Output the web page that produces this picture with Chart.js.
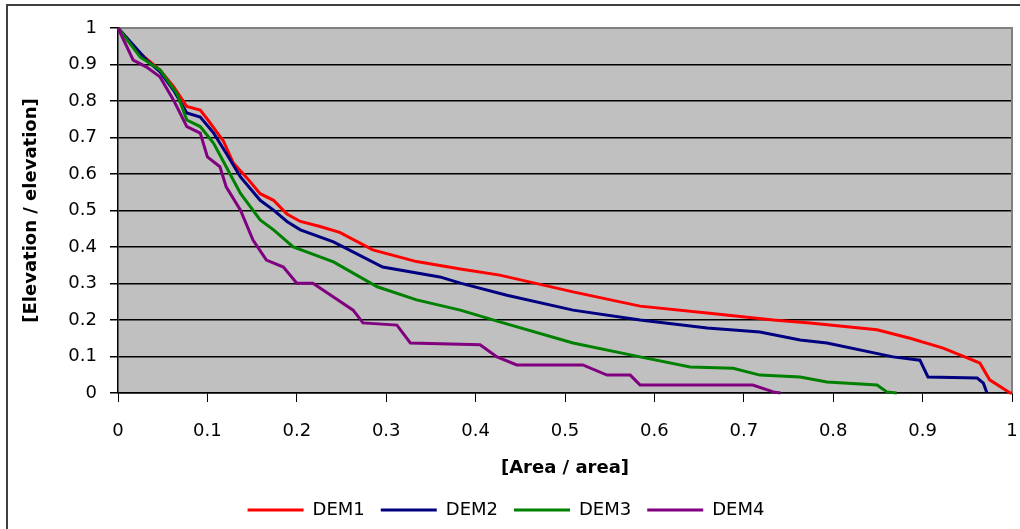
<!DOCTYPE html>
<html>
<head>
<meta charset="utf-8">
<script src="https://cdn.jsdelivr.net/npm/chart.js@4"></script>
<style>
  body { margin: 0; background: #fff; }
  #wrap { width: 1020px; height: 529px; }
</style>
</head>
<body>
<div id="wrap"><canvas id="chart" width="1020" height="529"></canvas></div>
<script>
// values
const seriesNames = ['DEM1', 'DEM2', 'DEM3', 'DEM4'];
const seriesColors = ['#ff0000', '#000080', '#008000', '#800080'];

const dem1X = [0, 0.025, 0.047, 0.062, 0.077, 0.092, 0.1, 0.118, 0.129, 0.144, 0.159, 0.174, 0.189, 0.204, 0.226, 0.248, 0.285, 0.334, 0.383, 0.427, 0.509, 0.584, 0.659, 0.733, 0.774, 0.849, 0.886, 0.923, 0.95, 0.964, 0.975, 0.998, 1];
const dem1Y = [1, 0.93, 0.885, 0.84, 0.785, 0.775, 0.75, 0.69, 0.63, 0.59, 0.546, 0.528, 0.49, 0.47, 0.456, 0.44, 0.392, 0.36, 0.34, 0.323, 0.277, 0.238, 0.219, 0.2, 0.192, 0.173, 0.15, 0.123, 0.096, 0.082, 0.036, 0, 0];

const dem2X = [0, 0.032, 0.047, 0.062, 0.077, 0.092, 0.107, 0.121, 0.137, 0.159, 0.174, 0.189, 0.204, 0.241, 0.296, 0.36, 0.383, 0.435, 0.509, 0.584, 0.659, 0.718, 0.763, 0.793, 0.867, 0.897, 0.906, 0.961, 0.968, 0.972];
const dem2Y = [1, 0.912, 0.88, 0.83, 0.767, 0.756, 0.712, 0.657, 0.592, 0.528, 0.501, 0.47, 0.447, 0.414, 0.345, 0.318, 0.301, 0.268, 0.227, 0.2, 0.178, 0.167, 0.145, 0.137, 0.099, 0.09, 0.044, 0.041, 0.027, 0];

const dem3X = [0, 0.025, 0.047, 0.066, 0.077, 0.092, 0.107, 0.121, 0.137, 0.159, 0.174, 0.196, 0.226, 0.241, 0.29, 0.334, 0.383, 0.427, 0.509, 0.584, 0.64, 0.688, 0.718, 0.763, 0.793, 0.849, 0.86, 0.871];
const dem3Y = [1, 0.92, 0.885, 0.82, 0.748, 0.73, 0.684, 0.62, 0.547, 0.474, 0.447, 0.4, 0.373, 0.359, 0.291, 0.255, 0.227, 0.195, 0.137, 0.099, 0.071, 0.068, 0.049, 0.044, 0.03, 0.022, 0.003, 0];

const dem4X = [0, 0.017, 0.032, 0.047, 0.062, 0.077, 0.092, 0.1, 0.114, 0.121, 0.137, 0.151, 0.166, 0.185, 0.2, 0.218, 0.241, 0.263, 0.274, 0.312, 0.327, 0.405, 0.424, 0.446, 0.52, 0.547, 0.573, 0.584, 0.71, 0.733, 0.741];
const dem4Y = [1, 0.912, 0.893, 0.866, 0.803, 0.73, 0.712, 0.647, 0.62, 0.565, 0.501, 0.419, 0.364, 0.345, 0.301, 0.301, 0.263, 0.227, 0.192, 0.186, 0.137, 0.132, 0.099, 0.077, 0.077, 0.049, 0.049, 0.022, 0.022, 0.003, 0];

const xTickLabels = ['0', '0.1', '0.2', '0.3', '0.4', '0.5', '0.6', '0.7', '0.8', '0.9', '1'];
const yTickLabels = ['0', '0.1', '0.2', '0.3', '0.4', '0.5', '0.6', '0.7', '0.8', '0.9', '1'];

const allX = [dem1X, dem2X, dem3X, dem4X];
const allY = [dem1Y, dem2Y, dem3Y, dem4Y];

Chart.defaults.font.family = '"DejaVu Sans", sans-serif';
Chart.defaults.color = '#000';

// gray plot background + outer frame + gray top/right plot border
const backdrop = {
  id: 'backdrop',
  beforeDraw(chart) {
    const ctx = chart.ctx, a = chart.chartArea;
    ctx.save();
    ctx.fillStyle = '#fff';
    ctx.fillRect(0, 0, chart.width, chart.height);
    ctx.fillStyle = '#c0c0c0';
    ctx.fillRect(a.left, a.top, a.right - a.left, a.bottom - a.top);
    ctx.strokeStyle = '#404040';
    ctx.lineWidth = 2;
    ctx.strokeRect(7, 5, chart.width + 20, chart.height + 20);
    ctx.restore();
  },
  beforeDatasetsDraw(chart) {
    const ctx = chart.ctx, a = chart.chartArea;
    ctx.save();
    ctx.strokeStyle = '#808080';
    ctx.lineWidth = 2;
    ctx.beginPath();
    ctx.moveTo(a.left, a.top);
    ctx.lineTo(a.right, a.top);
    ctx.lineTo(a.right, a.bottom);
    ctx.stroke();
    ctx.restore();
  }
};

const datasets = seriesNames.map((name, i) => ({
  label: name,
  data: allX[i].map((x, j) => ({x: x, y: allY[i][j]})),
  borderColor: seriesColors[i],
  backgroundColor: seriesColors[i],
  borderWidth: 3,
  pointRadius: 0,
  tension: 0,
  clip: false,
  order: 4 - i
}));

new Chart(document.getElementById('chart'), {
  type: 'line',
  data: { datasets: datasets },
  options: {
    responsive: false,
    animation: false,
    layout: { padding: { left: 0, top: 28, right: 8, bottom: 0 } },
    plugins: {
      tooltip: { enabled: false },
      legend: {
        position: 'bottom',
        labels: {
          font: { size: 18 },
          boxWidth: 56,
          boxHeight: 3,
          padding: 16,
          generateLabels: (chart) => chart.data.datasets.map((d, i) => ({
            text: d.label,
            fillStyle: d.borderColor,
            strokeStyle: d.borderColor,
            lineWidth: 0,
            hidden: false,
            datasetIndex: i,
            fontColor: '#000'
          }))
        }
      }
    },
    scales: {
      x: {
        type: 'linear',
        min: 0,
        max: 1,
        afterFit: (s) => {
          s.height = 529 - 393 - (s.chart.legend ? s.chart.legend.height : 44);
          s.paddingLeft = 0;
          s.paddingRight = 0;
        },
        ticks: {
          stepSize: 0.1,
          autoSkip: false,
          maxRotation: 0,
          padding: 19,
          font: { size: 18 },
          callback: (v, i) => xTickLabels[i]
        },
        grid: { drawOnChartArea: false, tickLength: 9, color: '#000' },
        border: { color: '#000', width: 1.5 },
        title: {
          display: true,
          text: '[Area / area]',
          font: { size: 18, weight: 'bold' },
          padding: { top: 0, bottom: 6 }
        }
      },
      y: {
        min: 0,
        max: 1,
        afterFit: (s) => { s.width = 118; },
        ticks: {
          stepSize: 0.1,
          padding: 13,
          font: { size: 18 },
          callback: (v, i) => yTickLabels[i]
        },
        grid: {
          color: (c) => (c.tick && c.tick.value === 1 ? 'rgba(0,0,0,0)' : '#000'),
          tickColor: '#000',
          tickLength: 8,
          lineWidth: 1.5
        },
        border: { color: '#000', width: 1.5 },
        title: {
          display: true,
          text: '[Elevation / elevation]',
          font: { size: 18, weight: 'bold' },
          padding: { top: 21, bottom: 0 }
        }
      }
    }
  },
  plugins: [backdrop]
});
</script>
</body>
</html>
